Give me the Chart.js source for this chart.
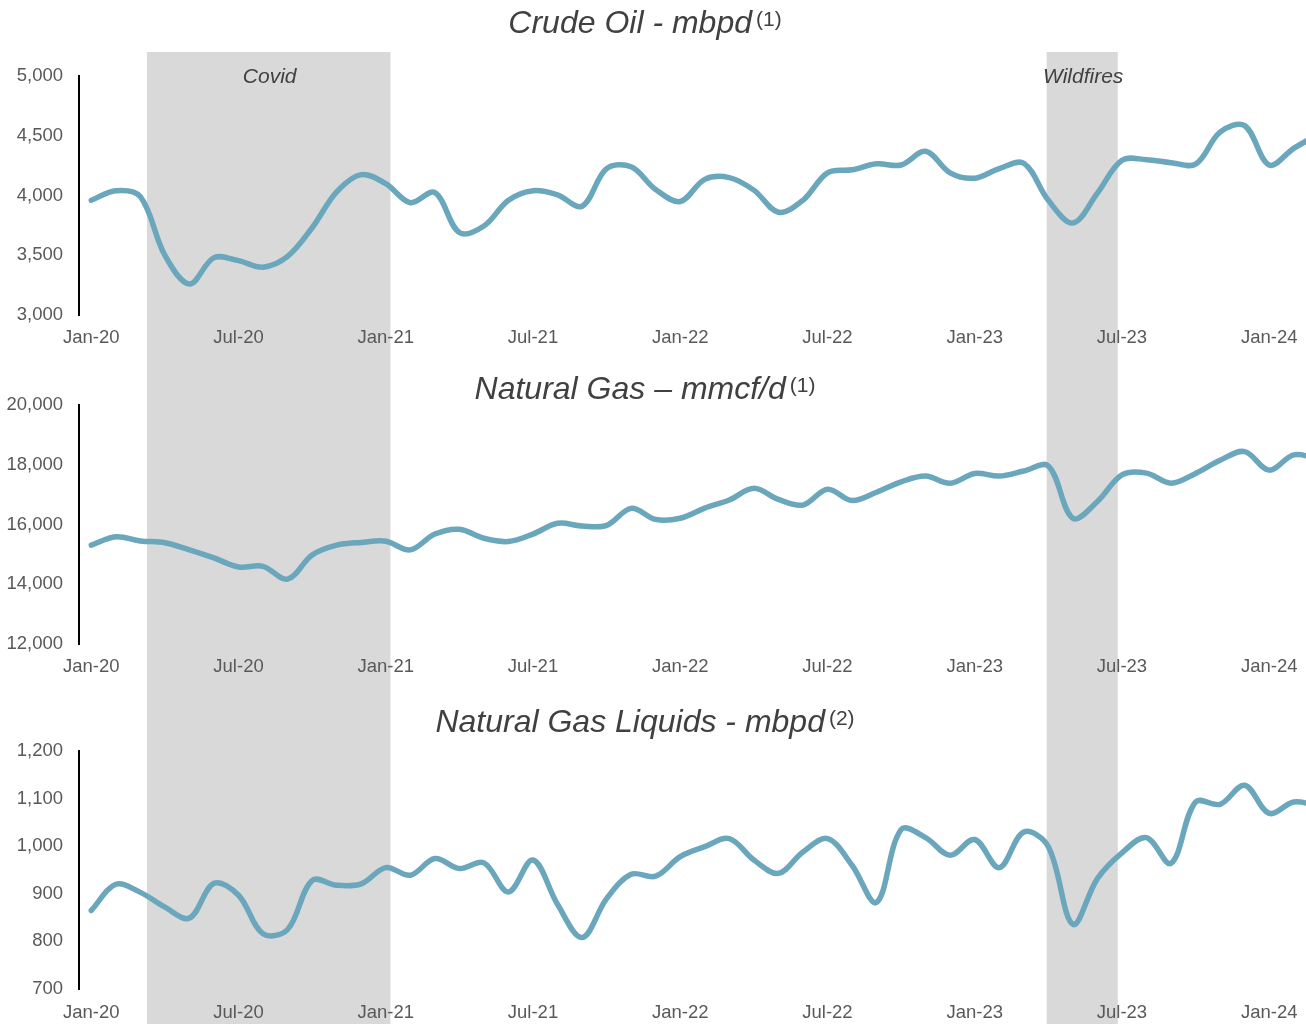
<!DOCTYPE html>
<html>
<head>
<meta charset="utf-8">
<script src="https://cdn.jsdelivr.net/npm/chart.js@4.4.1/dist/chart.umd.min.js"></script>
<style>
  html, body { margin: 0; padding: 0; background: #ffffff; }
  body { width: 1306px; height: 1024px; position: relative; overflow: hidden; font-family: "Liberation Sans", Arial, sans-serif; }
  canvas { position: absolute; left: 0; }
  .title { position: absolute; left: 0; width: 1290px; text-align: center; height: 40px; line-height: 40px;
           font-size: 32px; font-style: italic; color: #404040; white-space: nowrap; z-index: 2; }
  .title sup { font-size: 21px; font-style: normal; vertical-align: baseline; position: relative; top: -7px; margin-left: 4px; }
</style>
</head>
<body>
<canvas id="c1" width="1306" height="350" style="top:0px"></canvas>
<canvas id="c2" width="1306" height="329" style="top:350px"></canvas>
<canvas id="c3" width="1306" height="345" style="top:679px"></canvas>
<div class="title" style="top:2px">Crude Oil - mbpd<sup>(1)</sup></div>
<div class="title" style="top:368px">Natural Gas – mmcf/d<sup>(1)</sup></div>
<div class="title" style="top:701px">Natural Gas Liquids - mbpd<sup>(2)</sup></div>
<script>
// ---- data ----
const months = ['Jan-20','Feb-20','Mar-20','Apr-20','May-20','Jun-20','Jul-20','Aug-20','Sep-20','Oct-20','Nov-20','Dec-20',
  'Jan-21','Feb-21','Mar-21','Apr-21','May-21','Jun-21','Jul-21','Aug-21','Sep-21','Oct-21','Nov-21','Dec-21',
  'Jan-22','Feb-22','Mar-22','Apr-22','May-22','Jun-22','Jul-22','Aug-22','Sep-22','Oct-22','Nov-22','Dec-22',
  'Jan-23','Feb-23','Mar-23','Apr-23','May-23','Jun-23','Jul-23','Aug-23','Sep-23','Oct-23','Nov-23','Dec-23',
  'Jan-24','Feb-24','Mar-24'];

const xTickLabels = ['Jan-20','Jul-20','Jan-21','Jul-21','Jan-22','Jul-22','Jan-23','Jul-23','Jan-24'];

const crudeOil = [3960,4040,3990,3500,3260,3480,3455,3400,3490,3730,4030,4175,
  4100,3940,4025,3690,3745,3960,4040,4005,3910,4225,4240,4050,
  3950,4135,4150,4045,3860,3960,4190,4215,4265,4255,4370,4190,
  4145,4225,4270,3960,3770,4020,4295,4300,4275,4262,4530,4585,
  4255,4395,4510];

const naturalGas = [15310,15590,15450,15390,15150,14880,14580,14600,14170,14980,15310,15400,
  15440,15150,15680,15840,15540,15430,15680,16040,15950,15970,16540,16170,
  16210,16550,16820,17210,16840,16650,17180,16800,17080,17430,17620,17380,
  17710,17620,17790,17960,16210,16770,17660,17720,17380,17710,18150,18440,
  17820,18330,18200];

const ngl = [865,920,903,872,849,922,897,816,825,928,918,921,
  955,939,974,953,965,904,971,878,808,890,941,937,
  978,999,1016,971,943,988,1016,960,882,1035,1018,981,
  1014,955,1030,999,836,932,986,1018,964,1093,1088,1128,
  1069,1093,1085];

const crudeTicks = [3000, 3500, 4000, 4500, 5000];
const gasTicks = [12000, 14000, 16000, 18000, 20000];
const nglTicks = [700, 800, 900, 1000, 1100, 1200];

// shaded events, in month-index units
const eventNames = ['Covid', 'Wildfires'];
const eventFrom = [2.27, 38.93];
const eventTo = [12.19, 41.83];

// ---- drawing ----
const LINE = '#6ba7bc';
const FONT = '"Liberation Sans", Arial, sans-serif';

const bandPlugin = {
  id: 'bands',
  beforeDraw(chart, args, opts) {
    const ctx = chart.ctx;
    const xs = chart.scales.x;
    ctx.save();
    ctx.fillStyle = '#d9d9d9';
    eventNames.forEach((name, i) => {
      const x0 = xs.getPixelForValue(eventFrom[i]);
      const x1 = xs.getPixelForValue(eventTo[i]);
      ctx.fillRect(x0, opts.top, x1 - x0, chart.height - opts.top);
    });
    if (opts.labels) {
      ctx.fillStyle = '#404040';
      ctx.font = 'italic 21px ' + FONT;
      ctx.textAlign = 'center';
      ctx.textBaseline = 'alphabetic';
      eventNames.forEach((name, i) => {
        const x0 = xs.getPixelForValue(eventFrom[i]);
        const x1 = xs.getPixelForValue(eventTo[i]);
        ctx.fillText(name, (x0 + x1) / 2 + 1, opts.labelY);
      });
    }
    ctx.restore();
  }
};

function makeChart(id, values, yTicks, padTop, xPad, bandOpts) {
  const tickIdx = xTickLabels.map(l => months.indexOf(l));
  return new Chart(document.getElementById(id), {
    type: 'line',
    data: {
      datasets: [{
        data: values.map((v, i) => ({ x: i, y: v })),
        borderColor: LINE,
        borderWidth: 5.5,
        pointRadius: 0,
        pointHoverRadius: 0,
        tension: 0.35,
        borderCapStyle: 'round',
        borderJoinStyle: 'round',
        fill: false
      }]
    },
    options: {
      responsive: false,
      animation: false,
      devicePixelRatio: 1,
      layout: { padding: { top: padTop, right: 0, bottom: 0, left: 0 } },
      plugins: {
        legend: { display: false },
        tooltip: { enabled: false },
        title: { display: false },
        bands: bandOpts
      },
      scales: {
        x: {
          type: 'linear',
          min: -0.5,
          max: 49.5,
          grid: { display: false, drawTicks: false },
          border: { display: false },
          afterBuildTicks: s => { s.ticks = tickIdx.map(v => ({ value: v })); },
          afterFit: s => { s.height = 35; s.paddingLeft = 0; s.paddingRight = 0; },
          ticks: {
            autoSkip: false,
            maxRotation: 0,
            padding: xPad,
            color: '#595959',
            font: { family: FONT, size: 18.5 },
            callback: v => months[v]
          }
        },
        y: {
          type: 'linear',
          min: yTicks[0],
          max: yTicks[yTicks.length - 1],
          grid: { display: false, drawTicks: false },
          border: { display: true, color: '#000000', width: 2 },
          afterBuildTicks: s => { s.ticks = yTicks.map(v => ({ value: v })); },
          afterFit: s => { s.width = 79; },
          ticks: {
            padding: 16,
            color: '#595959',
            font: { family: FONT, size: 18.5 },
            callback: v => v.toLocaleString('en-US')
          }
        }
      }
    },
    plugins: [bandPlugin]
  });
}

makeChart('c1', crudeOil, crudeTicks, 76, 12, { top: 52, labels: true, labelY: 83 });
makeChart('c2', naturalGas, gasTicks, 55, 12, { top: 0, labels: false });
makeChart('c3', ngl, nglTicks, 72, 13, { top: 0, labels: false });
</script>
</body>
</html>
